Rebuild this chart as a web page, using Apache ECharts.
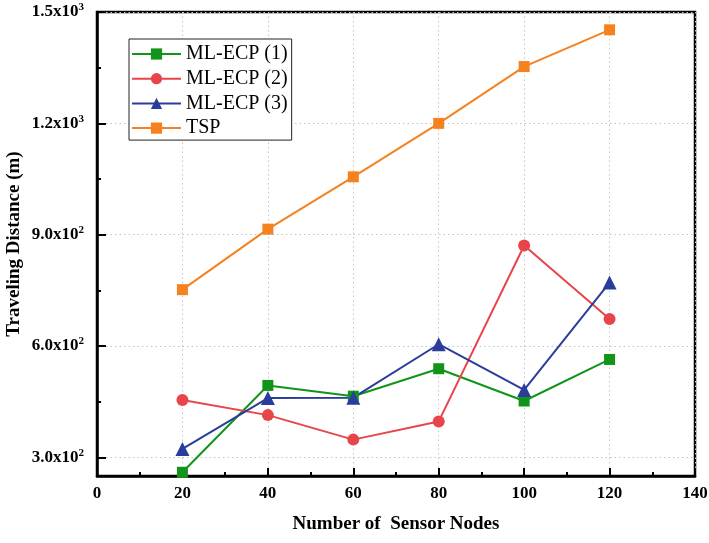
<!DOCTYPE html>
<html>
<head>
<meta charset="utf-8">
<script src="https://cdn.jsdelivr.net/npm/echarts@6/dist/echarts.min.js"></script>
<style>html,body{margin:0;padding:0;background:#fff;}#c{width:709px;height:543px;}</style>
</head>
<body>
<div id="c"></div>
<script>
var sensorNodes = [20, 40, 60, 80, 100, 120];
var mlEcp1 = [260, 494, 465, 539, 452, 564];
var mlEcp2 = [455, 414, 348, 397, 871, 673];
var mlEcp3 = [323, 460, 461, 605, 482, 771];
var tsp = [752, 915, 1056, 1200, 1353, 1452];
var seriesNames = ['ML-ECP (1)', 'ML-ECP (2)', 'ML-ECP (3)', 'TSP'];
var yMajorTicks = [300, 600, 900, 1200, 1500];
var yMinorTicks = [450, 750, 1050, 1350];

var FONT = "'Liberation Serif', 'Times New Roman', serif";
function pairs(vals) { return sensorNodes.map(function (x, i) { return [x, vals[i]]; }); }
function sciLabel(v) {
  var e = Math.floor(Math.log10(v) + 1e-9);
  var m = (v / Math.pow(10, e)).toFixed(1);
  return '{a|' + m + 'x10}{b|' + e + '}';
}
function mkSeries(name, vals, color, symbol, size) {
  return {
    name: name, type: 'line', data: pairs(vals), symbol: symbol, symbolSize: size,
    lineStyle: { color: color, width: 2 },
    itemStyle: { color: color },
    emphasis: { disabled: true }
  };
}
var chart = echarts.init(document.getElementById('c'), null, { renderer: 'canvas' });
chart.setOption({
  animation: false,
  backgroundColor: '#ffffff',
  grid: { left: 97, right: 14, top: 12, bottom: 67, outerBoundsMode: 'none', containLabel: false, show: true, borderColor: '#000', borderWidth: 2.5, backgroundColor: 'transparent' },
  legend: {
    orient: 'vertical', left: 129, top: 39,
    data: seriesNames,
    itemWidth: 49, itemHeight: 14, itemGap: 4.7,
    padding: [5, 4, 2, 2],
    borderColor: '#222', borderWidth: 1, backgroundColor: '#fff',
    textStyle: { fontFamily: FONT, fontSize: 20, color: '#000', lineHeight: 20 }
  },
  xAxis: {
    type: 'value', min: 0, max: 140, interval: 20,
    name: 'Number of  Sensor Nodes', nameLocation: 'middle', nameGap: 39, nameMoveOverlap: false,
    nameTextStyle: { fontFamily: FONT, fontSize: 19, fontWeight: 'bold', color: '#000', verticalAlign: 'top' },
    axisLine: { show: true, lineStyle: { color: '#000', width: 2.5 } },
    axisTick: { show: true, inside: true, length: 8, lineStyle: { color: '#000', width: 2 } },
    minorTick: { show: true, splitNumber: 2, length: 4, lineStyle: { color: '#000', width: 2 } },
    axisLabel: { fontFamily: FONT, fontSize: 17, fontWeight: 'bold', color: '#000', margin: 9 },
    splitLine: { show: true, lineStyle: { color: '#c4c4c4', type: [1.5, 3], width: 1 } }
  },
  yAxis: [{
    type: 'value', min: 250, max: 1500,
    name: 'Traveling Distance (m)', nameLocation: 'middle', nameGap: 73, nameMoveOverlap: false,
    nameTextStyle: { fontFamily: FONT, fontSize: 19, fontWeight: 'bold', color: '#000' },
    axisLine: { show: true, lineStyle: { color: '#000', width: 2.5 } },
    axisTick: { show: true, inside: true, length: 9, customValues: yMajorTicks, lineStyle: { color: '#000', width: 2 } },
    axisLabel: {
      customValues: yMajorTicks, margin: 13, formatter: sciLabel,
      rich: {
        a: { fontFamily: FONT, fontSize: 17, fontWeight: 'bold', color: '#000', lineHeight: 20 },
        b: { fontFamily: FONT, fontSize: 11, fontWeight: 'bold', color: '#000', verticalAlign: 'top', lineHeight: 12 }
      }
    },
    splitLine: { show: true, lineStyle: { color: '#c4c4c4', type: [1.5, 3], width: 1 } }
  }, {
    type: 'value', min: 250, max: 1500, position: 'left', offset: 0,
    axisLine: { show: false },
    axisTick: { show: true, inside: true, length: 4, customValues: yMinorTicks, lineStyle: { color: '#000', width: 2 } },
    axisLabel: { show: false },
    splitLine: { show: false }
  }],
  series: [
    mkSeries(seriesNames[0], mlEcp1, '#12941a', 'rect', 11),
    mkSeries(seriesNames[1], mlEcp2, '#e8454a', 'circle', 12),
    mkSeries(seriesNames[2], mlEcp3, '#2b3d9c', 'triangle', 14),
    mkSeries(seriesNames[3], tsp, '#f5821f', 'rect', 11)
  ]
});
</script>
</body>
</html>
